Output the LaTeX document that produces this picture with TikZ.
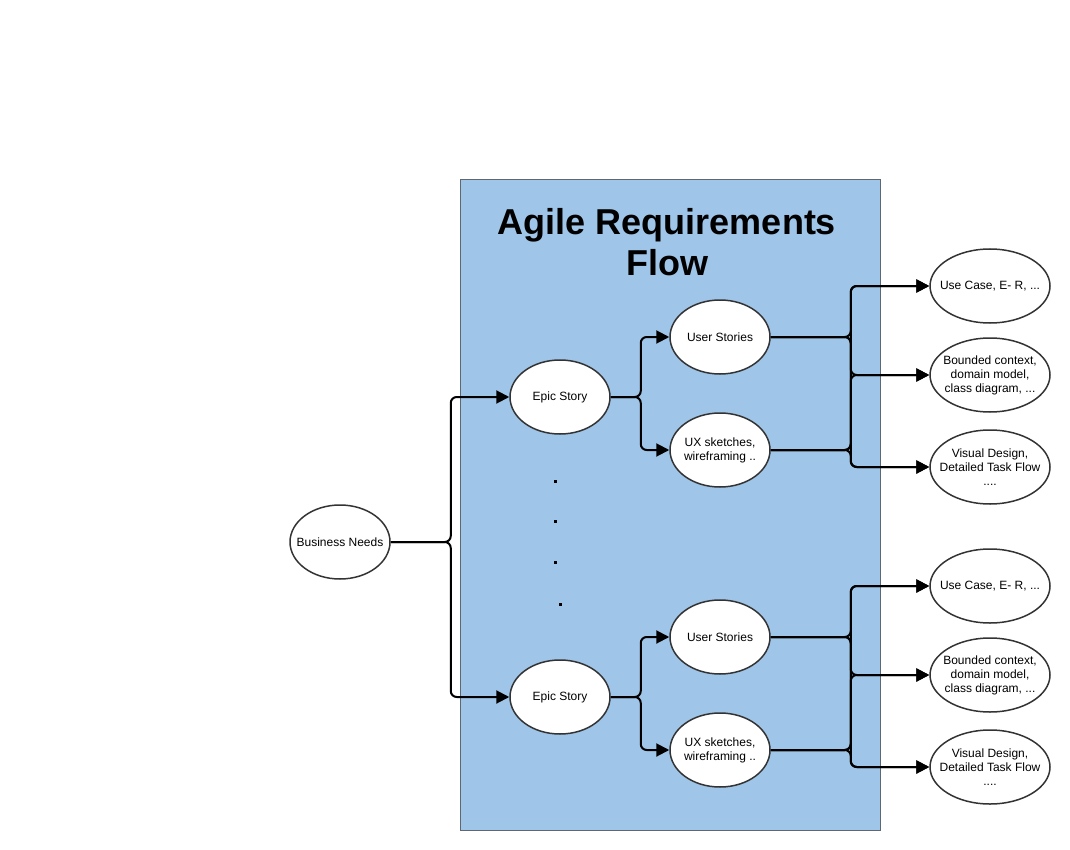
\documentclass[tikz,border=0pt]{standalone}
\usepackage{fontspec}
\setmainfont{Liberation Sans}
\usetikzlibrary{arrows.meta,shapes.geometric}
\definecolor{panelblue}{HTML}{9FC5E8}
\definecolor{panelborder}{HTML}{5F6770}
\definecolor{ellborder}{HTML}{333333}
\begin{document}
\begin{tikzpicture}[x=1pt,y=-1pt,
  ell/.style={ellipse,draw=ellborder,line width=1.5pt,fill=white,minimum width=100pt,minimum height=74pt,inner sep=0pt,
    label={[align=center,font=\fontsize{12}{14}\selectfont,inner sep=0pt]center:#1}},
  wideell/.style={ell={#1},minimum width=120pt},
  conn/.style={line width=2pt,rounded corners=6pt,-{Triangle[length=13pt,width=13pt]}},
  dotmark/.style={fill=black,minimum size=3pt,inner sep=0pt}]
\useasboundingbox (0,0) rectangle (1070,850);
\node[draw=panelborder,fill=panelblue,line width=1pt,minimum width=420pt,minimum height=650pt,inner sep=0pt] (panel) at (670,505) {};
\node[font=\fontsize{36}{41}\selectfont\bfseries,align=center] (title) at (667,242) {Agile Requirements\\Flow};
\node[ell={Business Needs}] (bn) at (340,542) {};
\node[ell={Epic Story}] (e1) at (560,397) {};
\node[ell={Epic Story}] (e2) at (560,697) {};
\node[ell={User Stories}] (us1) at (720,337) {};
\node[ell={UX sketches,\\wireframing ..}] (ux1) at (720,450) {};
\node[ell={User Stories}] (us2) at (720,637) {};
\node[ell={UX sketches,\\wireframing ..}] (ux2) at (720,750) {};
\node[wideell={Use Case, E- R, ...}] (a1) at (990,286) {};
\node[wideell={Bounded context,\\domain model,\\class diagram, ...}] (b1) at (990,375) {};
\node[wideell={Visual Design,\\Detailed Task Flow\\....}] (c1) at (990,467) {};
\node[wideell={Use Case, E- R, ...}] (a2) at (990,586) {};
\node[wideell={Bounded context,\\domain model,\\class diagram, ...}] (b2) at (990,675) {};
\node[wideell={Visual Design,\\Detailed Task Flow\\....}] (c2) at (990,767) {};
\node[dotmark] (d1) at (555,481) {};
\node[dotmark] (d2) at (555,521) {};
\node[dotmark] (d3) at (555,562) {};
\node[dotmark] (d4) at (560,604) {};
\draw[conn] (bn.east) -- ++(60,0) |- (e1.west);
\draw[conn] (bn.east) -- ++(60,0) |- (e2.west);
\draw[conn] (e1.east) -- ++(30,0) |- (us1.west);
\draw[conn] (e1.east) -- ++(30,0) |- (ux1.west);
\draw[conn] (e2.east) -- ++(30,0) |- (us2.west);
\draw[conn] (e2.east) -- ++(30,0) |- (ux2.west);
\foreach \s in {us1,ux1}{
  \foreach \t in {a1,b1,c1}{
    \draw[conn] (\s.east) -- ++(80,0) |- (\t.west);
  }
}
\foreach \s in {us2,ux2}{
  \foreach \t in {a2,b2,c2}{
    \draw[conn] (\s.east) -- ++(80,0) |- (\t.west);
  }
}
\end{tikzpicture}
\end{document}
